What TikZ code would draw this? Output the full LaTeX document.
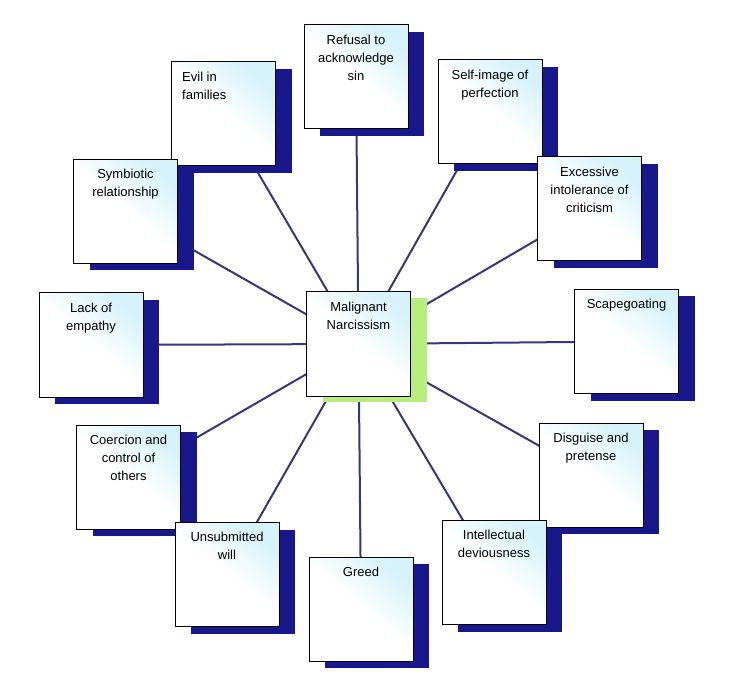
\documentclass[tikz,border=0pt]{standalone}
\usepackage{fontspec}
\setmainfont{Liberation Sans}
\usetikzlibrary{shadows,backgrounds}
\definecolor{navy}{HTML}{18188C}
\definecolor{spoke}{HTML}{36367F}
\definecolor{lime}{HTML}{B8EE7E}
\definecolor{ice}{HTML}{D6F2FA}

\begin{document}
\begin{tikzpicture}[x=1pt,y=-1pt,
  plain/.style={draw=black,line width=1pt,minimum width=104pt,minimum height=104pt,inner sep=0pt,
    top color=ice,bottom color=white,middle color=white,shading angle=-40},
  ttl/.style={anchor=north,align=center,inner sep=0pt,yshift=-10pt,font=\fontsize{13}{18}\selectfont},
  box/.style={plain,label={[ttl]north:#1}},
  boxl/.style={plain,label={[ttl,anchor=north west,align=left,xshift=11pt]north west:#1}},
  dark/.style={drop shadow={shadow xshift=16pt,shadow yshift=-7pt,fill=navy,opacity=1}},
  bright/.style={drop shadow={shadow xshift=16pt,shadow yshift=-6pt,fill=lime,opacity=1}},
  link/.style={draw=spoke,line width=2pt}
]
  \useasboundingbox (0,0) rectangle (736,692);

  % outer ring
  \node[boxl={Evil in\\families},dark] (evil) at (223.5,114) {};
  \node[box={Refusal to\\acknowledge\\sin},dark] (refusal) at (356,77) {};
  \node[box={Self-image of\\perfection},dark] (selfimg) at (490,112) {};
  \node[box={Excessive\\intolerance of\\criticism},dark] (intol) at (589.5,209) {};
  \node[box={Symbiotic\\relationship},dark] (symb) at (125.5,211.5) {};
  \node[box={Lack of\\empathy},dark] (empathy) at (91,345) {};
  \node[box={Scapegoating},dark] (scape) at (626.5,341.5) {};
  \node[box={Disguise and\\pretense},dark] (disguise) at (591,475) {};
  \node[box={Coercion and\\control of\\others},dark] (coerce) at (128.5,477) {};
  \node[box={Unsubmitted\\will},dark] (will) at (227,574.5) {};
  \node[box={Greed},dark] (greed) at (361,609) {};
  \node[box={Intellectual\\deviousness},dark] (devious) at (494,572.5) {};

  % centre
  \node[box={Malignant\\Narcissism},bright] (core) at (358.5,344) {};

  \begin{scope}[on background layer]
    \foreach \n in {evil,refusal,selfimg,intol,symb,empathy,scape,disguise,coerce,will,greed,devious}
      \draw[link] (core.center) -- (\n.center);
  \end{scope}
\end{tikzpicture}
\end{document}
